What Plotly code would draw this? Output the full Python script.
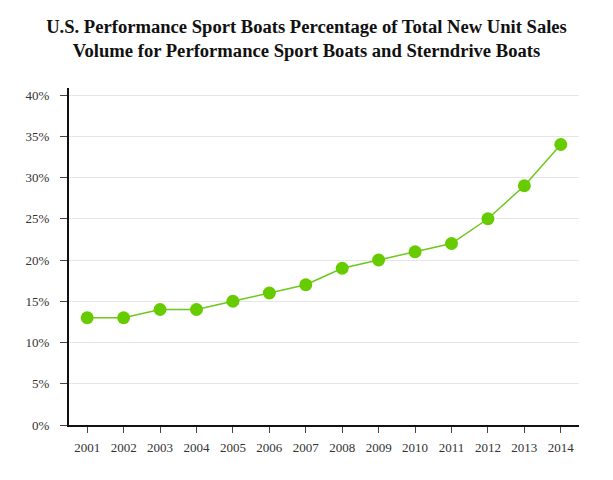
import plotly.graph_objects as go

years = ["2001", "2002", "2003", "2004", "2005", "2006", "2007",
         "2008", "2009", "2010", "2011", "2012", "2013", "2014"]
share = [0.13, 0.13, 0.14, 0.14, 0.15, 0.16, 0.17,
         0.19, 0.20, 0.21, 0.22, 0.25, 0.29, 0.34]

fig = go.Figure()
fig.add_trace(go.Scatter(
    x=years, y=share, mode="lines+markers",
    line=dict(color="#6cc81a", width=1.5),
    marker=dict(color="#66cc00", size=13),
    hoverinfo="x+y",
))

fig.update_layout(
    width=613, height=480,
    margin=dict(l=69, r=34, t=88, b=55),
    paper_bgcolor="white", plot_bgcolor="white",
    showlegend=False,
    font=dict(family="Liberation Serif", size=13, color="#333333"),
    title=dict(
        text="<b>U.S. Performance Sport Boats Percentage of Total New Unit Sales<br>Volume for Performance Sport Boats and Sterndrive Boats</b>",
        x=0.5, xanchor="center", y=0.932, yanchor="top",
        font=dict(family="Liberation Serif", size=18.6, color="#111111"),
    ),
    xaxis=dict(
        type="category", range=[-0.5, 13.5],
        showline=True, linecolor="#111111", linewidth=2,
        ticks="outside", ticklen=6, tickcolor="#444444",
        showgrid=False, zeroline=False,
        ticklabelstandoff=3,
        tickfont=dict(family="Liberation Serif", size=13, color="#333333"),
    ),
    yaxis=dict(
        range=[0, 0.4085], tickvals=[0, 0.05, 0.1, 0.15, 0.2, 0.25, 0.3, 0.35, 0.4],
        tickformat=".0%",
        showline=True, linecolor="#111111", linewidth=2,
        ticks="outside", ticklen=7, tickcolor="#444444",
        showgrid=True, gridcolor="#e6e6e6", gridwidth=1,
        zeroline=False,
        ticklabelstandoff=8,
        tickfont=dict(family="Liberation Serif", size=13, color="#333333"),
    ),
)

fig.write_html("out.html", config={"displayModeBar": False},
               post_script="document.body.style.margin='0';")
